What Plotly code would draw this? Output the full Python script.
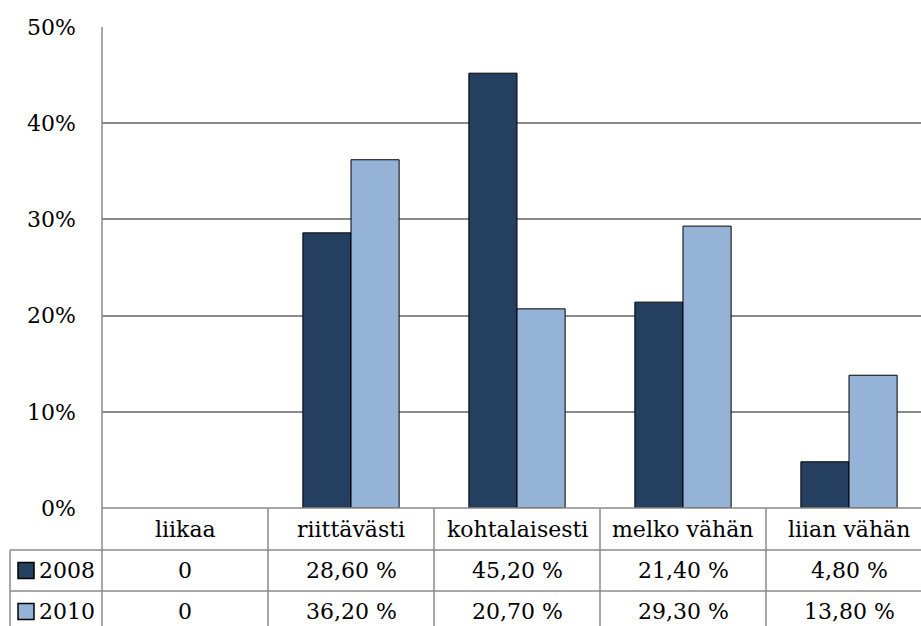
import plotly.graph_objects as go

categories = ["liikaa", "riittävästi", "kohtalaisesti", "melko vähän", "liian vähän"]
years = ["2008", "2010"]
values_2008 = [0, 28.6, 45.2, 21.4, 4.8]
values_2010 = [0, 36.2, 20.7, 29.3, 13.8]
y_ticks = [0, 10, 20, 30, 40, 50]

colors = {"2008": "#243F60", "2010": "#95B3D7"}
grid_color = "#8A8A8A"
font_family = "DejaVu Serif"
font_size = 22

W, H = 921, 626
left, right, top, bottom = 102, 0, 27, 118
plot_w = W - left - right
plot_h = H - top - bottom


def px_x(px):
    return (px - left) / plot_w


def px_y(py):
    return (H - bottom - py) / plot_h


def fmt(v):
    if v == 0:
        return "0"
    return f"{v:.2f}".replace(".", ",") + " %"


fig = go.Figure()
for name, vals in zip(years, [values_2008, values_2010]):
    fig.add_trace(go.Bar(
        x=list(range(len(categories))), y=vals, name=name,
        marker=dict(color=colors[name],
                    line=dict(color="black", width=[0 if v == 0 else 1 for v in vals])),
        showlegend=False,
    ))

shapes = []
annotations = []

# data table rows (pixel y of row boundaries)
row_cat = (508, 550)
row_2008 = (550, 591)
row_2010 = (591, 632)
table_left_px = 10

line = dict(color=grid_color, width=1.5)

# horizontal table lines
for py in [row_2008[0], row_2010[0]]:
    shapes.append(dict(type="line", xref="paper", yref="paper",
                       x0=px_x(table_left_px), x1=1, y0=px_y(py), y1=px_y(py), line=line))
shapes.append(dict(type="line", xref="paper", yref="paper",
                   x0=0, x1=1, y0=px_y(508), y1=px_y(508), line=line))
# vertical line at the left of the series-name column
shapes.append(dict(type="line", xref="paper", yref="paper",
                   x0=px_x(table_left_px), x1=px_x(table_left_px),
                   y0=px_y(row_2008[0]), y1=px_y(640), line=line))
# vertical line along the value axis, extended through the table
shapes.append(dict(type="line", xref="paper", yref="paper",
                   x0=0, x1=0, y0=1, y1=px_y(640), line=line))
# category separators
for k in range(len(categories) - 1):
    shapes.append(dict(type="line", xref="x", yref="paper",
                       x0=k + 0.5, x1=k + 0.5, y0=0, y1=px_y(640), line=line))

text_font = dict(family=font_family, size=font_size, color="black")

# category labels
for k, c in enumerate(categories):
    annotations.append(dict(x=k, y=px_y(sum(row_cat) / 2), xref="x", yref="paper",
                            text=c, showarrow=False, xanchor="center", yanchor="middle",
                            font=text_font))

# series rows
for name, vals, row in [("2008", values_2008, row_2008), ("2010", values_2010, row_2010)]:
    yc = sum(row) / 2
    shapes.append(dict(type="rect", xref="paper", yref="paper",
                       x0=px_x(18), x1=px_x(34), y0=px_y(yc - 8), y1=px_y(yc + 8),
                       fillcolor=colors[name], line=dict(color="black", width=1.5)))
    annotations.append(dict(x=px_x(37), y=px_y(yc), xref="paper", yref="paper",
                            text=name, showarrow=False, xanchor="left", yanchor="middle",
                            font=text_font))
    for k, v in enumerate(vals):
        annotations.append(dict(x=k, y=px_y(yc), xref="x", yref="paper",
                                text=fmt(v), showarrow=False,
                                xanchor="center", yanchor="middle", font=text_font))

fig.update_layout(
    width=W, height=H,
    margin=dict(l=left, r=right, t=top, b=bottom, pad=0),
    paper_bgcolor="white", plot_bgcolor="white",
    barmode="group", bargap=0.42, bargroupgap=0,
    font=text_font,
    shapes=shapes, annotations=annotations,
    xaxis=dict(range=[-0.5, len(categories) - 0.5 - 11 / 166], showticklabels=False,
               showgrid=False, zeroline=False, showline=False, fixedrange=True),
    yaxis=dict(range=[0, 50], tickvals=y_ticks, ticktext=[f"{t}%" for t in y_ticks],
               showgrid=True, gridcolor=grid_color, gridwidth=1.5,
               zeroline=False, showline=False, ticks="", ticklabelstandoff=25,
               tickfont=text_font),
)

fig.write_html("out.html", config={"displayModeBar": False})
